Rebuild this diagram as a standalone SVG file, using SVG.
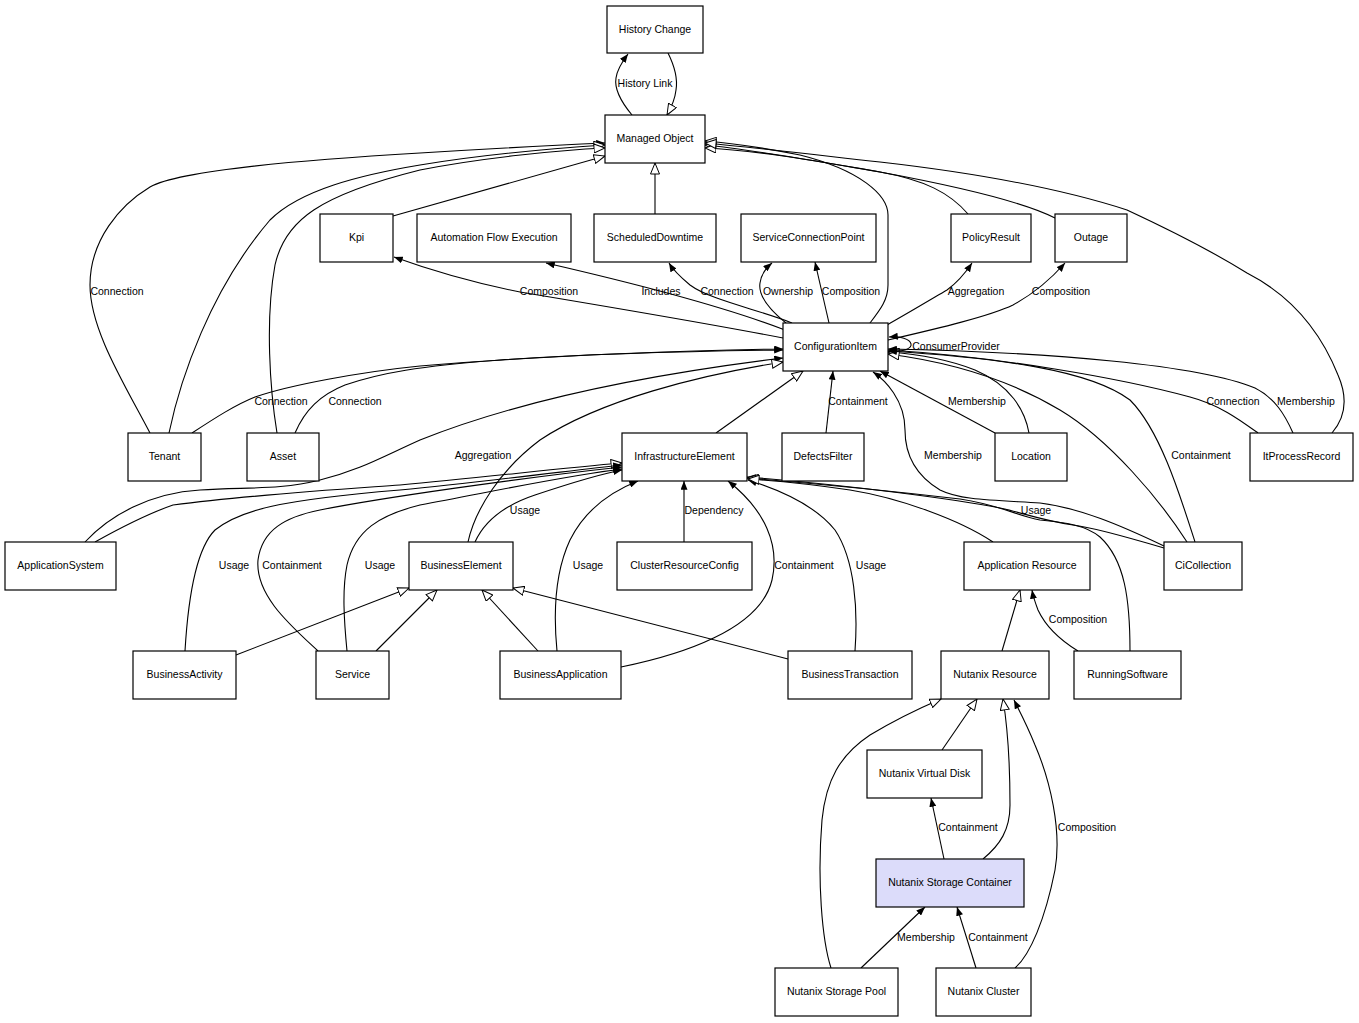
<svg xmlns="http://www.w3.org/2000/svg" width="1359" height="1023" viewBox="0 0 1359 1023">
<style>
.n rect{fill:#fff;stroke:#000;stroke-width:1.2}
.n text,.lb text{font-family:"Liberation Sans",Arial,sans-serif;font-size:10.5px;fill:#000;text-anchor:middle}
.e path{fill:none;stroke:#000;stroke-width:1.1}
.f{marker-end:url(#fa)}
.h{marker-end:url(#ha)}
</style>
<defs>
<marker id="fa" viewBox="0 0 10 8" refX="10" refY="4" markerWidth="9" markerHeight="7" orient="auto" markerUnits="userSpaceOnUse"><path d="M0,0 L10,4 L0,8 z" fill="#000"/></marker>
<marker id="ha" viewBox="0 0 12 10" refX="11.5" refY="5" markerWidth="12" markerHeight="10" orient="auto" markerUnits="userSpaceOnUse"><path d="M0.5,0.5 L11.5,5 L0.5,9.5 z" fill="#fff" stroke="#000" stroke-width="1"/></marker>
</defs>
<rect width="1359" height="1023" fill="#fff"/>
<g id="connectors" class="e">
<path class="f" d="M632,115 C622,103 614,90 616,78 C617,70 622,62 628,54"/>
<path class="h" d="M668,53 C674,65 678,78 676,90 C675,99 671,108 667,115"/>
<path class="h" d="M655,214 L655,163"/>
<path class="h" d="M393,216 L605,156"/>
<path class="f" d="M150,433 C125,385 90,330 90,285 C90,240 120,205 150,187 C180,170 300,160 420,153 C500,148 560,145 605,143"/>
<path class="h" d="M169,433 C180,380 210,290 270,220 C300,190 360,175 420,165 C480,155 560,148 605,145"/>
<path class="h" d="M277,433 C270,390 265,320 275,265 C285,220 320,195 420,170 C480,158 560,150 605,148"/>
<path class="h" d="M870,323 C880,310 888,300 888,285 L888,215 C888,195 860,170 800,155 C760,147 730,143 705,141"/>
<path class="h" d="M968,214 C950,193 925,180 880,172 C810,160 755,150 705,145"/>
<path class="h" d="M1055,218 C1020,200 950,185 880,172 C800,158 750,150 705,148"/>
<path class="h" d="M1332,433 C1345,418 1348,398 1338,375 C1320,330 1290,295 1247,273 C1210,250 1170,230 1127,210 C1050,185 950,170 880,162 C800,153 750,147 705,143"/>
<path class="f" d="M783,338 C700,322 580,302 520,292 C470,282 430,270 394,257"/>
<path class="f" d="M785,330 C720,305 620,280 546,263"/>
<path class="f" d="M792,323 C760,310 710,300 690,285 C678,275 672,268 669,263"/>
<path class="f" d="M786,323 C770,310 758,295 760,283 C761,275 766,268 772,263"/>
<path class="f" d="M829,323 L815,262"/>
<path class="f" d="M887,325 C910,312 930,300 947,290 C958,282 966,272 972,263"/>
<path class="f" d="M888,340 C940,328 990,316 1013,305 C1035,293 1050,280 1065,263"/>
<path class="f" d="M888,352 C905,352 912,348 911,344 C910,339 900,336 889,337"/>
<path class="f" d="M192,433 C215,418 235,405 255,397 C290,385 360,372 420,366 C550,355 700,350 783,349"/>
<path class="f" d="M295,433 C305,410 320,395 345,385 C380,373 420,366 500,360 C600,353 700,351 783,350"/>
<path class="f" d="M85,542 C110,515 150,493 200,490 C250,487 280,490 320,480 C360,470 380,458 420,440 C500,408 620,378 783,358"/>
<path class="h" d="M95,542 C120,528 150,513 173,505 C250,495 330,490 400,485 C480,478 560,468 622,463"/>
<path class="f" d="M185,651 C188,600 195,550 215,530 C240,510 280,500 400,490 C480,482 560,472 622,465"/>
<path class="f" d="M318,651 C290,625 255,595 258,560 C262,530 285,517 320,510 C380,498 520,478 622,467"/>
<path class="f" d="M347,651 C344,620 342,590 347,565 C355,530 380,515 420,505 C500,490 570,475 622,469"/>
<path class="f" d="M475,542 C485,520 505,505 535,495 C565,485 595,475 622,470"/>
<path class="h" d="M468,542 C475,510 500,470 540,440 C600,400 700,375 783,362"/>
<path class="f" d="M557,651 C553,610 556,570 570,540 C585,510 610,492 638,481"/>
<path class="f" d="M621,667 C680,655 760,630 772,580 C780,545 765,510 728,481"/>
<path class="f" d="M684,542 L684,481"/>
<path class="f" d="M855,651 C858,610 855,560 835,530 C815,505 780,490 748,480"/>
<path class="h" d="M788,659 L513,588"/>
<path class="h" d="M236,655 L409,588"/>
<path class="h" d="M376,651 L437,590"/>
<path class="h" d="M538,651 L482,590"/>
<path class="h" d="M716,433 L803,371"/>
<path class="f" d="M826,433 L833,371"/>
<path class="f" d="M995,433 L880,371"/>
<path class="h" d="M1029,433 C1025,410 1010,385 975,370 C945,358 915,354 888,352"/>
<path class="f" d="M1164,546 C1120,525 1080,508 1040,503 C990,500 960,500 940,490 C915,475 905,455 905,430 C905,400 885,380 873,372"/>
<path class="f" d="M1164,548 C1120,535 1090,527 1073,525 C1040,520 1020,512 1000,508 C960,500 850,485 747,477"/>
<path class="h" d="M1130,651 C1130,600 1125,560 1100,537 C1085,524 1060,522 1040,520 C1015,515 1000,505 960,499 C900,492 820,484 747,478"/>
<path class="h" d="M993,542 C960,520 900,498 850,490 C810,484 780,481 748,479"/>
<path class="h" d="M1187,542 C1160,500 1110,440 1060,410 C1010,380 950,362 888,354"/>
<path class="f" d="M1195,542 C1180,495 1160,430 1130,400 C1090,370 1000,358 888,351"/>
<path class="f" d="M1258,433 C1240,420 1220,405 1190,397 C1120,378 1000,357 888,350"/>
<path class="f" d="M1293,433 C1285,415 1275,398 1255,388 C1200,365 1050,352 888,349"/>
<path class="h" d="M1002,651 L1020,590"/>
<path class="f" d="M1078,651 C1060,640 1045,625 1038,610 C1035,602 1033,596 1032,590"/>
<path class="h" d="M942,750 L977,699"/>
<path class="f" d="M944,859 L931,798"/>
<path class="h" d="M983,859 C1000,845 1010,830 1010,805 C1010,770 1008,730 1003,699"/>
<path class="h" d="M831,968 C822,940 817,880 822,820 C826,780 840,755 870,735 C895,720 920,708 941,699"/>
<path class="f" d="M861,968 L925,907"/>
<path class="f" d="M976,968 L957,907"/>
<path class="f" d="M1015,968 C1030,955 1045,920 1055,870 C1062,830 1050,780 1035,745 C1027,725 1020,712 1014,700"/>
</g>
<g id="labels" class="lb">
<text x="645" y="87">History Link</text>
<text x="117" y="295">Connection</text>
<text x="549" y="295">Composition</text>
<text x="661" y="295">Includes</text>
<text x="727" y="295">Connection</text>
<text x="788" y="295">Ownership</text>
<text x="851" y="295">Composition</text>
<text x="976" y="295">Aggregation</text>
<text x="1061" y="295">Composition</text>
<text x="956" y="350">ConsumerProvider</text>
<text x="281" y="405">Connection</text>
<text x="355" y="405">Connection</text>
<text x="858" y="405">Containment</text>
<text x="977" y="405">Membership</text>
<text x="1233" y="405">Connection</text>
<text x="1306" y="405">Membership</text>
<text x="483" y="459">Aggregation</text>
<text x="953" y="459">Membership</text>
<text x="1201" y="459">Containment</text>
<text x="525" y="514">Usage</text>
<text x="714" y="514">Dependency</text>
<text x="1036" y="514">Usage</text>
<text x="234" y="569">Usage</text>
<text x="292" y="569">Containment</text>
<text x="380" y="569">Usage</text>
<text x="588" y="569">Usage</text>
<text x="804" y="569">Containment</text>
<text x="871" y="569">Usage</text>
<text x="1078" y="623">Composition</text>
<text x="968" y="831">Containment</text>
<text x="1087" y="831">Composition</text>
<text x="926" y="941">Membership</text>
<text x="998" y="941">Containment</text>
</g>
<g id="HistoryChange" class="n"><rect x="607" y="6" width="96" height="47"/><text x="655" y="33">History Change</text></g>
<g id="ManagedObject" class="n"><rect x="605" y="115" width="100" height="48"/><text x="655" y="142">Managed Object</text></g>
<g id="Kpi" class="n"><rect x="320" y="214" width="73" height="48"/><text x="356.5" y="241">Kpi</text></g>
<g id="AutomationFlowExecution" class="n"><rect x="417" y="214" width="154" height="48"/><text x="494" y="241">Automation Flow Execution</text></g>
<g id="ScheduledDowntime" class="n"><rect x="594" y="214" width="122" height="48"/><text x="655" y="241">ScheduledDowntime</text></g>
<g id="ServiceConnectionPoint" class="n"><rect x="741" y="214" width="135" height="48"/><text x="808.5" y="241">ServiceConnectionPoint</text></g>
<g id="PolicyResult" class="n"><rect x="951" y="214" width="80" height="48"/><text x="991" y="241">PolicyResult</text></g>
<g id="Outage" class="n"><rect x="1055" y="214" width="72" height="48"/><text x="1091" y="241">Outage</text></g>
<g id="ConfigurationItem" class="n"><rect x="783" y="323" width="105" height="48"/><text x="835.5" y="350">ConfigurationItem</text></g>
<g id="Tenant" class="n"><rect x="128" y="433" width="73" height="48"/><text x="164.5" y="460">Tenant</text></g>
<g id="Asset" class="n"><rect x="247" y="433" width="72" height="48"/><text x="283" y="460">Asset</text></g>
<g id="InfrastructureElement" class="n"><rect x="622" y="433" width="125" height="48"/><text x="684.5" y="460">InfrastructureElement</text></g>
<g id="DefectsFilter" class="n"><rect x="782" y="433" width="82" height="48"/><text x="823" y="460">DefectsFilter</text></g>
<g id="Location" class="n"><rect x="995" y="433" width="72" height="48"/><text x="1031" y="460">Location</text></g>
<g id="ItProcessRecord" class="n"><rect x="1250" y="433" width="103" height="48"/><text x="1301.5" y="460">ItProcessRecord</text></g>
<g id="ApplicationSystem" class="n"><rect x="5" y="542" width="111" height="48"/><text x="60.5" y="569">ApplicationSystem</text></g>
<g id="BusinessElement" class="n"><rect x="409" y="542" width="104" height="48"/><text x="461" y="569">BusinessElement</text></g>
<g id="ClusterResourceConfig" class="n"><rect x="617" y="542" width="135" height="48"/><text x="684.5" y="569">ClusterResourceConfig</text></g>
<g id="ApplicationResource" class="n"><rect x="964" y="542" width="126" height="48"/><text x="1027" y="569">Application Resource</text></g>
<g id="CiCollection" class="n"><rect x="1164" y="542" width="78" height="48"/><text x="1203" y="569">CiCollection</text></g>
<g id="BusinessActivity" class="n"><rect x="133" y="651" width="103" height="48"/><text x="184.5" y="678">BusinessActivity</text></g>
<g id="Service" class="n"><rect x="316" y="651" width="73" height="48"/><text x="352.5" y="678">Service</text></g>
<g id="BusinessApplication" class="n"><rect x="500" y="651" width="121" height="48"/><text x="560.5" y="678">BusinessApplication</text></g>
<g id="BusinessTransaction" class="n"><rect x="788" y="651" width="124" height="48"/><text x="850" y="678">BusinessTransaction</text></g>
<g id="NutanixResource" class="n"><rect x="941" y="651" width="108" height="48"/><text x="995" y="678">Nutanix Resource</text></g>
<g id="RunningSoftware" class="n"><rect x="1074" y="651" width="107" height="48"/><text x="1127.5" y="678">RunningSoftware</text></g>
<g id="NutanixVirtualDisk" class="n"><rect x="867" y="750" width="115" height="48"/><text x="924.5" y="777">Nutanix Virtual Disk</text></g>
<g id="NutanixStorageContainer" class="n"><rect x="876" y="859" width="148" height="48" style="fill:#dcdcfa"/><text x="950" y="886">Nutanix Storage Container</text></g>
<g id="NutanixStoragePool" class="n"><rect x="775" y="968" width="123" height="48"/><text x="836.5" y="995">Nutanix Storage Pool</text></g>
<g id="NutanixCluster" class="n"><rect x="936" y="968" width="95" height="48"/><text x="983.5" y="995">Nutanix Cluster</text></g>
</svg>
